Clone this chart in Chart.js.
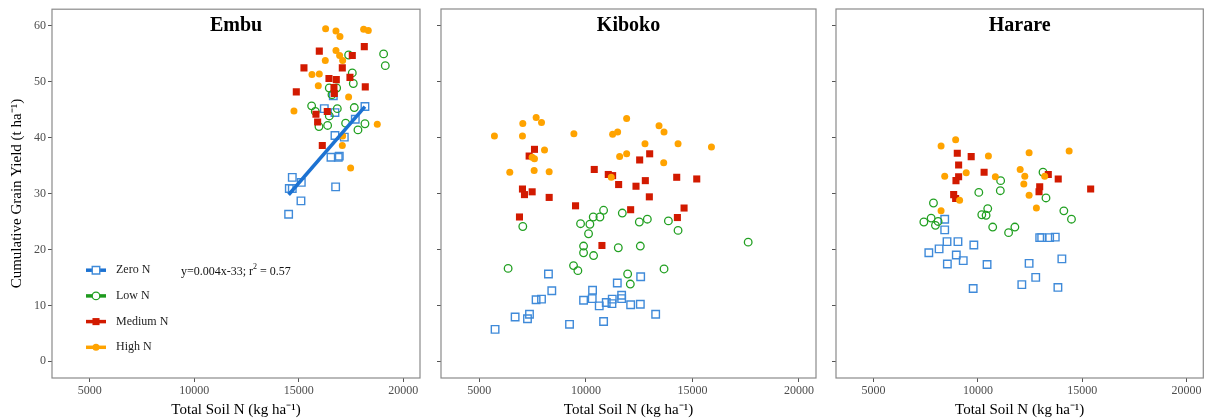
<!DOCTYPE html>
<html><head><meta charset="utf-8">
<script src="https://cdn.jsdelivr.net/npm/chart.js@4.4.1/dist/chart.umd.min.js"></script>
<style>
html,body{margin:0;padding:0;background:#fff;}
#wrap{position:relative;width:1210px;height:420px;overflow:hidden;background:#fff;}
canvas{position:absolute;top:0;}
</style></head><body>
<div id="wrap">
<canvas id="c1" width="430" height="420" style="left:0px"></canvas>
<canvas id="c2" width="395" height="420" style="left:430px"></canvas>
<canvas id="c3" width="385" height="420" style="left:825px"></canvas>
</div>
<script>
// ---------- data ----------
const sites = ['Embu', 'Kiboko', 'Harare'];
const seriesNames = ['Zero N', 'Low N', 'Medium N', 'High N'];
const xTicks = [5000, 10000, 15000, 20000];
const yTicks = [0, 10, 20, 30, 40, 50, 60];
const xTitle = 'Total Soil N (kg ha\u207B\u00B9)';
const yTitle = 'Cumulative Grain Yield (t ha\u207B\u00B9)';
const equationParts = ['y=0.004x-33; r', '2', ' = 0.57'];

const embuZero = [[18167,45.6],[16223,45.2],[16733,44.5],[16654,47.5],[17705,43.3],[16733,40.4],[17180,40.1],[16542,36.5],[16892,36.5],[16940,36.7],[16765,31.2],[14692,32.9],[14549,30.9],[14692,30.9],[15123,32.0],[15107,28.7],[14517,26.3]];
const embuLow = [[19060,55.0],[19140,52.9],[17386,54.8],[17562,51.6],[17610,49.7],[16462,48.9],[16813,48.9],[16590,47.7],[15617,45.7],[15792,44.7],[16462,43.9],[16845,45.2],[17657,45.4],[15968,42.0],[16382,42.2],[17243,42.6],[17833,41.4],[18167,42.5]];
const embuMedium = [[18136,56.3],[15984,55.5],[17562,54.7],[15250,52.5],[17084,52.5],[16446,50.6],[16797,50.4],[17450,50.8],[16685,49.0],[16701,47.9],[14884,48.2],[18183,49.1],[16366,44.7],[15824,44.2],[15904,42.8],[16127,38.6]];
const embuHigh = [[16286,59.5],[16781,59.1],[16972,58.1],[18104,59.4],[18327,59.2],[16781,55.6],[16956,54.7],[17100,53.8],[16270,53.8],[15633,51.3],[15984,51.4],[15936,49.3],[17386,47.3],[14772,44.8],[18757,42.4],[17100,40.3],[17084,38.6],[17482,34.6]];

const kibokoZero = [[8243,15.6],[8400,12.6],[7663,11.0],[7917,11.1],[6679,7.9],[7353,8.4],[7259,7.6],[5738,5.7],[9232,6.6],[10313,12.7],[9891,10.9],[10298,11.2],[10627,9.9],[10956,10.5],[11238,11.1],[11223,10.3],[11678,11.8],[11678,11.2],[11474,14.0],[12571,15.1],[12101,10.1],[12555,10.2],[10831,7.1],[13275,8.4]];
const kibokoLow = [[7039,24.1],[9750,24.6],[10188,24.5],[10345,25.8],[10659,25.8],[10831,27.0],[11709,26.5],[10125,22.8],[12508,24.9],[12884,25.4],[13872,25.1],[14326,23.4],[17617,21.3],[9891,20.6],[9891,19.4],[10361,18.9],[11521,20.3],[12555,20.6],[6350,16.6],[9420,17.1],[9624,16.2],[13668,16.5],[11960,15.6],[12085,13.8]];
const kibokoMedium = [[7588,37.9],[7337,36.7],[10393,34.3],[11051,33.4],[11255,33.2],[12524,36.0],[12994,37.1],[14263,32.9],[15203,32.6],[11537,31.6],[12352,31.3],[12790,32.3],[7023,30.8],[7117,29.8],[7478,30.3],[8277,29.3],[12978,29.4],[9515,27.8],[12101,27.1],[14608,27.4],[6883,25.8],[14295,25.7],[10753,20.7]];
const kibokoHigh = [[5707,40.3],[7039,42.5],[7023,40.3],[7666,43.6],[7917,42.7],[8058,37.8],[9437,40.7],[7478,36.5],[7588,36.2],[6428,33.8],[7572,34.1],[8277,33.9],[11913,43.4],[11255,40.6],[11490,41.0],[12774,38.9],[13432,42.1],[13667,41.0],[14326,38.9],[15893,38.3],[11584,36.6],[11913,37.1],[13652,35.5],[11192,32.9]];

const harareZero = [[8409,25.4],[8409,23.5],[8520,21.4],[9044,21.4],[9805,20.8],[8140,20.1],[7648,19.4],[8964,19.0],[9297,18.0],[8536,17.4],[10439,17.3],[12961,22.1],[13056,22.1],[13437,22.1],[13707,22.2],[12453,17.5],[14023,18.3],[12770,15.0],[12104,13.7],[13833,13.2],[9773,13.0]];
const harareLow = [[13119,33.8],[11089,32.3],[11073,30.5],[10043,30.2],[13262,29.2],[7870,28.3],[10471,27.3],[10186,26.2],[10392,26.1],[14118,26.9],[14483,25.4],[7759,25.6],[7410,24.9],[8092,25.0],[7965,24.3],[10709,24.0],[11470,23.0],[11771,24.0]];
const harareMedium = [[9012,37.2],[9678,36.6],[9076,35.1],[10297,33.8],[9076,33.0],[8949,32.3],[13373,33.4],[13849,32.6],[15403,30.8],[12961,31.2],[12929,30.3],[8838,29.8],[8933,29.1]];
const harareHigh = [[8235,38.5],[8933,39.6],[10503,36.7],[12453,37.3],[14372,37.6],[9440,33.7],[8409,33.1],[10836,33.0],[12025,34.3],[12247,33.1],[12200,31.7],[13199,33.1],[9123,28.8],[12453,29.7],[8235,26.9],[12802,27.4]];

// ---------- styles ----------
const SERIF = "'Liberation Serif', 'Times New Roman', serif";
const STY = [
  {shape:'rect',   radius:5.3, fill:false, color:'#3f8ad9', line:'#1c72d2', bw:1.4, order:4},
  {shape:'circle', radius:3.8, fill:false, color:'#22a022', line:'#1e9a1e', bw:1.3, order:3},
  {shape:'rect',   radius:5.0, fill:true,  color:'#d21a00', line:'#d21a00', bw:0,   order:2},
  {shape:'circle', radius:3.5, fill:true,  color:'#ffa300', line:'#ffa300', bw:0,   order:1}
];

function toPts(arr){ return arr.map(p => ({x:p[0], y:p[1]})); }

function fitLine(arr){
  const n = arr.length;
  const mx = arr.reduce((s,p)=>s+p[0],0)/n, my = arr.reduce((s,p)=>s+p[1],0)/n;
  let sxy=0, sxx=0;
  arr.forEach(p=>{ sxy+=(p[0]-mx)*(p[1]-my); sxx+=(p[0]-mx)*(p[0]-mx); });
  const b = sxy/sxx, a = my - b*mx;
  const xs = arr.map(p=>p[0]);
  const x0 = Math.min(...xs), x1 = Math.max(...xs);
  return [{x:x0, y:a+b*x0}, {x:x1, y:a+b*x1}];
}

function drawMarker(ctx, st, x, y){
  ctx.save();
  ctx.beginPath();
  if (st.shape === 'rect'){
    const h = st.radius*Math.SQRT1_2;
    ctx.rect(x-h, y-h, 2*h, 2*h);
  } else {
    ctx.arc(x, y, st.radius, 0, Math.PI*2);
  }
  if (st.fill){ ctx.fillStyle = st.color; ctx.fill(); }
  else { ctx.fillStyle = '#fff'; ctx.fill(); ctx.lineWidth = st.bw; ctx.strokeStyle = st.color; ctx.stroke(); }
  ctx.restore();
}

const decor = {
  id: 'decor',
  afterDraw(chart, args, opts){
    const {ctx, chartArea:a} = chart;
    ctx.save();
    ctx.strokeStyle = '#8a8a8a';
    ctx.lineWidth = 1.2;
    ctx.strokeRect(a.left, a.top, a.right-a.left, a.bottom-a.top);
    ctx.fillStyle = '#000';
    ctx.font = 'bold 20px ' + SERIF;
    ctx.textAlign = 'center';
    ctx.textBaseline = 'middle';
    ctx.fillText(opts.title, (a.left+a.right)/2, a.top+17);
    if (opts.legend){
      ctx.font = '12px ' + SERIF;
      ctx.textAlign = 'left';
      seriesNames.forEach((name,i)=>{
        const st = STY[i];
        const y = a.top + 261 + i*25.7;
        const x0 = a.left + 34;
        ctx.beginPath();
        ctx.strokeStyle = st.line;
        ctx.lineWidth = 3.5;
        ctx.moveTo(x0, y); ctx.lineTo(x0+20, y); ctx.stroke();
        drawMarker(ctx, st, x0+10, y);
        ctx.fillStyle = '#222';
        ctx.fillText(name, x0+30, y);
      });
      // equation
      let ex = a.left + 129, ey = a.top + 263;
      ctx.fillStyle = '#111';
      ctx.font = '12px ' + SERIF;
      ctx.fillText(equationParts[0], ex, ey);
      ex += ctx.measureText(equationParts[0]).width;
      ctx.font = '8px ' + SERIF;
      ctx.fillText(equationParts[1], ex, ey-5);
      ex += ctx.measureText(equationParts[1]).width;
      ctx.font = '12px ' + SERIF;
      ctx.fillText(equationParts[2], ex, ey);
    }
    ctx.restore();
  }
};

function makePanel(id, title, series, cfg){
  const datasets = [];
  if (cfg.fit){
    datasets.push({label:'fit', data: fitLine(series[0]), showLine:true, pointRadius:0,
      borderColor:'#1c72d2', borderWidth:3.5, order:0, fill:false});
  }
  series.forEach((arr,i)=>{
    const st = STY[i];
    datasets.push({
      label: seriesNames[i], data: toPts(arr), order: st.order,
      pointStyle: st.shape, pointRadius: st.radius, pointHoverRadius: st.radius,
      pointBorderWidth: st.bw,
      pointBackgroundColor: st.fill ? st.color : 'rgba(0,0,0,0)',
      pointBorderColor: st.color, borderColor: st.color, backgroundColor: st.color
    });
  });
  return new Chart(document.getElementById(id), {
    type: 'scatter',
    data: {datasets},
    options: {
      responsive:false, animation:false, devicePixelRatio:1, events:[],
      layout:{padding:{left:0, right:cfg.padRight, top:9, bottom:0}},
      plugins:{legend:{display:false}, tooltip:{enabled:false}, decor:{title, legend:!!cfg.legend}},
      scales:{
        x:{type:'linear', min:3200, max:20800,
          afterBuildTicks: s => { s.ticks = xTicks.map(v=>({value:v})); },
          afterFit: s => { s.height = 42; },
          grid:{display:true, drawOnChartArea:false, drawTicks:true, tickLength:4, color:'#555', lineWidth:1},
          border:{display:false},
          ticks:{font:{family:SERIF, size:12}, color:'#4d4d4d', padding:2, maxRotation:0, autoSkip:false, callback:v=>String(v)},
          title:{display:true, text:xTitle, color:'#000', font:{family:SERIF, size:15, lineHeight:1.2}, padding:{top:0, bottom:1}}
        },
        y:{type:'linear', min:-3, max:63,
          afterBuildTicks: s => { s.ticks = yTicks.map(v=>({value:v})); },
          afterFit: s => { s.width = cfg.yWidth; },
          grid:{display:true, drawOnChartArea:false, drawTicks:true, tickLength:4, color:'#555', lineWidth:1},
          border:{display:false},
          ticks:{display:!!cfg.yLabels, font:{family:SERIF, size:12}, color:'#4d4d4d', padding:2, callback:v=>String(v)},
          title:{display:!!cfg.yLabels, text:yTitle, color:'#000', font:{family:SERIF, size:15, lineHeight:1.2}, padding:{top:8, bottom:0}}
        }
      }
    },
    plugins:[decor]
  });
}

makePanel('c1', sites[0], [embuZero, embuLow, embuMedium, embuHigh], {fit:true, legend:true, yLabels:true, yWidth:52, padRight:10});
makePanel('c2', sites[1], [kibokoZero, kibokoLow, kibokoMedium, kibokoHigh], {yWidth:11, padRight:9});
makePanel('c3', sites[2], [harareZero, harareLow, harareMedium, harareHigh], {yWidth:11, padRight:5});
</script>
</body></html>
